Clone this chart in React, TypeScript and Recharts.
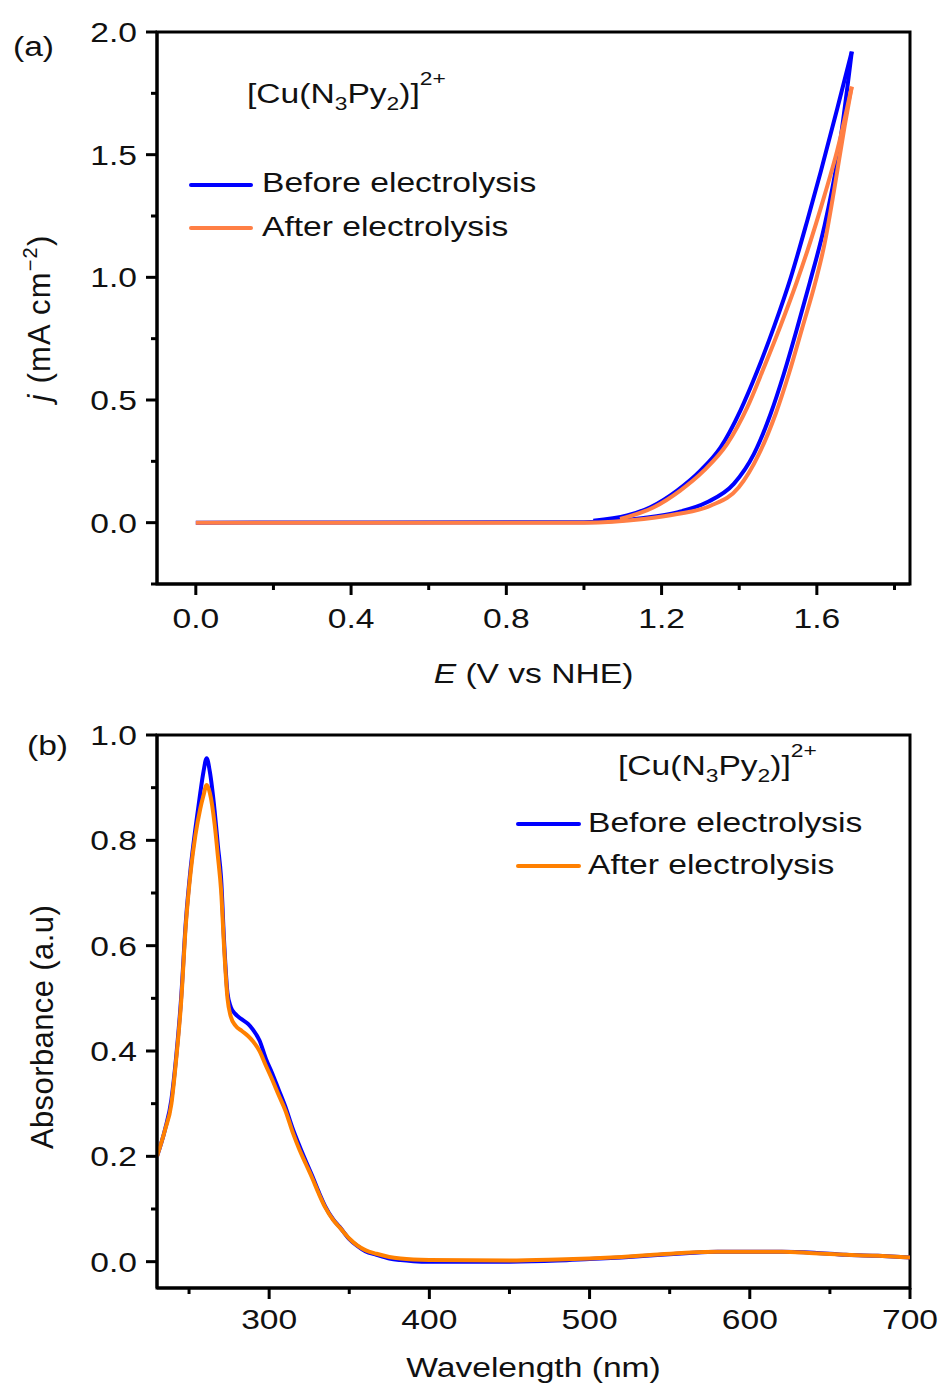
import React from 'react';
import { LineChart, Line, XAxis, YAxis, ReferenceArea, Legend } from 'recharts';

const FONT = '"Liberation Sans", Arial, Helvetica, sans-serif';
const INK = '#111111';
const SX = 1.2;

// ---------- Panel (a): cyclic voltammograms ----------
const cvBeforeFwdE = [0.0, 1.0, 1.154, 1.24, 1.317, 1.386, 1.438, 1.481, 1.515, 1.55, 1.582, 1.619, 1.653, 1.69];
const cvBeforeFwdJ = [0.0, 0.002, 0.019, 0.042, 0.083, 0.158, 0.28, 0.444, 0.607, 0.797, 0.98, 1.205, 1.478, 1.92];
const cvBeforeRevE = [1.024, 1.111, 1.171, 1.24, 1.3, 1.352, 1.403, 1.447, 1.49, 1.533, 1.576, 1.61, 1.653, 1.69];
const cvBeforeRevJ = [0.008, 0.029, 0.063, 0.131, 0.212, 0.307, 0.457, 0.62, 0.8, 1.0, 1.235, 1.43, 1.69, 1.92];
const cvAfterFwdE = [0.0, 1.0, 1.154, 1.24, 1.326, 1.399, 1.451, 1.494, 1.528, 1.563, 1.597, 1.619, 1.645, 1.672, 1.69];
const cvAfterFwdJ = [0.0, 0.0, 0.015, 0.035, 0.069, 0.144, 0.28, 0.444, 0.607, 0.797, 0.985, 1.13, 1.36, 1.62, 1.777];
const cvAfterRevE = [1.093, 1.18, 1.248, 1.309, 1.369, 1.421, 1.464, 1.507, 1.548, 1.576, 1.619, 1.653, 1.69];
const cvAfterRevJ = [0.015, 0.063, 0.131, 0.212, 0.321, 0.471, 0.634, 0.805, 0.98, 1.11, 1.33, 1.52, 1.777];

const cvXTicks = [0, 0.2, 0.4, 0.6, 0.8, 1.0, 1.2, 1.4, 1.6, 1.8];
const cvXMajor = [0, 0.4, 0.8, 1.2, 1.6];
const cvYTicks = [-0.25, 0, 0.25, 0.5, 0.75, 1.0, 1.25, 1.5, 1.75, 2.0];
const cvYMajor = [0, 0.5, 1.0, 1.5, 2.0];
const cvXDomain = [-0.1, 1.84];
const cvYDomain = [-0.25, 2.0];

// ---------- Panel (b): UV-vis spectra ----------
const wavelength = [230, 235, 239, 242, 245, 248, 251, 254, 257, 259, 261, 263, 266, 268, 270, 272, 274, 276, 279, 283, 287, 290, 294, 298, 302, 306, 310, 315, 319, 323, 327, 331, 335, 340, 344, 350, 355, 360, 367, 375, 382, 390, 400, 450, 480, 500, 520, 540, 560, 580, 600, 620, 640, 660, 680, 700];
const absBefore = [0.2, 0.251, 0.308, 0.39, 0.498, 0.646, 0.747, 0.823, 0.89, 0.93, 0.956, 0.93, 0.855, 0.79, 0.728, 0.601, 0.51, 0.484, 0.47, 0.46, 0.451, 0.44, 0.42, 0.385, 0.357, 0.326, 0.295, 0.25, 0.219, 0.19, 0.162, 0.132, 0.105, 0.08, 0.066, 0.043, 0.03, 0.02, 0.013, 0.006, 0.003, 0.001, 0.0, 0.0, 0.002, 0.005, 0.008, 0.012, 0.016, 0.019, 0.019, 0.019, 0.017, 0.013, 0.011, 0.008];
const absAfter = [0.2, 0.25, 0.3, 0.385, 0.49, 0.64, 0.74, 0.81, 0.86, 0.885, 0.905, 0.89, 0.83, 0.77, 0.705, 0.59, 0.5, 0.466, 0.448, 0.438, 0.428, 0.418, 0.4, 0.372, 0.345, 0.316, 0.288, 0.243, 0.212, 0.185, 0.158, 0.129, 0.103, 0.079, 0.065, 0.044, 0.031, 0.022, 0.015, 0.009, 0.006, 0.004, 0.003, 0.002, 0.004, 0.006, 0.009, 0.013, 0.017, 0.019, 0.019, 0.019, 0.016, 0.013, 0.011, 0.008];

const uvXTicks = [250, 300, 350, 400, 450, 500, 550, 600, 650, 700];
const uvXMajor = [300, 400, 500, 600, 700];
const uvYTicks = [0, 0.1, 0.2, 0.3, 0.4, 0.5, 0.6, 0.7, 0.8, 0.9, 1.0];
const uvYMajor = [0, 0.2, 0.4, 0.6, 0.8, 1.0];
const uvXDomain = [230, 700];
const uvYDomain = [-0.05, 1.0];

const seriesLabels = ['Before electrolysis', 'After electrolysis'];

const zipPts = (xs: number[], ys: number[], xk: string, yk: string) =>
  xs.map((x, i) => ({ [xk]: x, [yk]: ys[i] }));

const cvBeforeFwd = zipPts(cvBeforeFwdE, cvBeforeFwdJ, 'E', 'j');
const cvBeforeRev = zipPts(cvBeforeRevE, cvBeforeRevJ, 'E', 'j');
const cvAfterFwd = zipPts(cvAfterFwdE, cvAfterFwdJ, 'E', 'j');
const cvAfterRev = zipPts(cvAfterRevE, cvAfterRevJ, 'E', 'j');
const uvData = wavelength.map((w, i) => ({ wl: w, before: absBefore[i], after: absAfter[i] }));

const isMajor = (v: number, majors: number[]) => majors.some((m) => Math.abs(m - v) < 1e-6);

const makeBottomTick = (majors: number[], fmt: (v: number) => string, labelDy: number) => (p: any) => {
  const { x, y, payload } = p;
  const major = isMajor(payload.value, majors);
  return (
    <g>
      <line x1={x} x2={x} y1={y} y2={y + (major ? 11 : 6)} stroke="#000" strokeWidth={3} />
      {major && (
        <text
          transform={`translate(${x} ${y + labelDy}) scale(${SX} 1)`}
          textAnchor="middle"
          fontSize={28}
          fontFamily={FONT}
          fill={INK}
        >
          {fmt(payload.value)}
        </text>
      )}
    </g>
  );
};

const makeLeftTick = (majors: number[], fmt: (v: number) => string) => (p: any) => {
  const { x, y, payload } = p;
  const major = isMajor(payload.value, majors);
  return (
    <g>
      <line x1={x - (major ? 11 : 6)} x2={x} y1={y} y2={y} stroke="#000" strokeWidth={3} />
      {major && (
        <text
          transform={`translate(${x - 20} ${y + 10}) scale(${SX} 1)`}
          textAnchor="end"
          fontSize={28}
          fontFamily={FONT}
          fill={INK}
        >
          {fmt(payload.value)}
        </text>
      )}
    </g>
  );
};

const SText = ({ x, y, anchor = 'start', children }: any) => (
  <text
    transform={`translate(${x} ${y}) scale(${SX} 1)`}
    textAnchor={anchor}
    fontSize={28}
    fontFamily={FONT}
    fill={INK}
  >
    {children}
  </text>
);

const ComplexName = ({ x, y }: { x: number; y: number }) => (
  <text transform={`translate(${x} ${y}) scale(${SX} 1)`} fontSize={28} fontFamily={FONT} fill={INK}>
    [Cu(N
    <tspan fontSize={19} dy={7}>3</tspan>
    <tspan dy={-7}>Py</tspan>
    <tspan fontSize={19} dy={7}>2</tspan>
    <tspan dy={-7}>)]</tspan>
    <tspan fontSize={19} dy={-18}>2+</tspan>
  </text>
);

const LegendRows = ({ x0, x1, tx, rows }: any) => (
  <g>
    {rows.map((r: any, i: number) => (
      <g key={i}>
        <line x1={x0} x2={x1} y1={r.ly} y2={r.ly} stroke={r.color} strokeWidth={4} strokeLinecap="round" />
        <SText x={tx} y={r.ty}>{r.label}</SText>
      </g>
    ))}
  </g>
);

const OverlayA = () => (
  <svg width={941} height={700} style={{ position: 'absolute', left: 0, top: 0, overflow: 'visible' }}>
    <SText x={13} y={56}>(a)</SText>
    <ComplexName x={247} y={103} />
    <LegendRows
      x0={191}
      x1={251}
      tx={262}
      rows={[
        { color: '#0000FF', label: seriesLabels[0], ly: 185, ty: 192 },
        { color: '#FF7F45', label: seriesLabels[1], ly: 228, ty: 236 },
      ]}
    />
    <SText x={533.5} y={683} anchor="middle">
      <tspan fontStyle="italic">E</tspan> (V vs NHE)
    </SText>
    <text
      transform="translate(50 318) rotate(-90)"
      textAnchor="middle"
      fontSize={31}
      fontFamily={FONT}
      fill={INK}
      letterSpacing={1.2}
    >
      <tspan fontStyle="italic">j</tspan> (mA cm
      <tspan fontSize={20} dy={-13}>−2</tspan>
      <tspan dy={13}>)</tspan>
    </text>
  </svg>
);

const OverlayB = () => (
  <svg width={941} height={692} style={{ position: 'absolute', left: 0, top: 0, overflow: 'visible' }}>
    <SText x={27} y={55}>(b)</SText>
    <ComplexName x={618} y={75} />
    <LegendRows
      x0={518}
      x1={579}
      tx={588}
      rows={[
        { color: '#0000FF', label: seriesLabels[0], ly: 124, ty: 132 },
        { color: '#FF8000', label: seriesLabels[1], ly: 166, ty: 174 },
      ]}
    />
    <SText x={533.5} y={677} anchor="middle">Wavelength (nm)</SText>
    <text
      transform="translate(53 327) rotate(-90)"
      textAnchor="middle"
      fontSize={31}
      fontFamily={FONT}
      fill={INK}
      letterSpacing={0.4}
    >
      Absorbance (a.u)
    </text>
  </svg>
);

const axisLine = { stroke: '#000', strokeWidth: 3 };

export default function App() {
  return (
    <div style={{ position: 'absolute', left: 0, top: 0, width: 941, height: 1392, background: '#fff' }}>
      <div style={{ position: 'absolute', left: 0, top: 0 }}>
        <LineChart width={941} height={700} margin={{ top: 32, right: 31, left: 0, bottom: 56 }}>
          <XAxis
            type="number"
            dataKey="E"
            domain={cvXDomain}
            ticks={cvXTicks}
            interval={0}
            allowDataOverflow
            height={60}
            tickSize={0}
            tickMargin={0}
            tickLine={false}
            axisLine={axisLine}
            tick={makeBottomTick(cvXMajor, (v) => v.toFixed(1), 44)}
          />
          <YAxis
            type="number"
            domain={cvYDomain}
            ticks={cvYTicks}
            interval={0}
            allowDataOverflow
            width={157}
            tickSize={0}
            tickMargin={0}
            tickLine={false}
            axisLine={axisLine}
            tick={makeLeftTick(cvYMajor, (v) => v.toFixed(1))}
          />
          <ReferenceArea
            x1={cvXDomain[0]}
            x2={cvXDomain[1]}
            y1={cvYDomain[0]}
            y2={cvYDomain[1]}
            fill="none"
            fillOpacity={0}
            stroke="#000"
            strokeWidth={3}
          />
          <Line data={cvBeforeFwd} dataKey="j" type="monotoneX" stroke="#0000FF" strokeWidth={4} dot={false} activeDot={false} isAnimationActive={false} />
          <Line data={cvBeforeRev} dataKey="j" type="monotoneX" stroke="#0000FF" strokeWidth={4} dot={false} activeDot={false} isAnimationActive={false} />
          <Line data={cvAfterFwd} dataKey="j" type="monotoneX" stroke="#FF7F45" strokeWidth={4} dot={false} activeDot={false} isAnimationActive={false} />
          <Line data={cvAfterRev} dataKey="j" type="monotoneX" stroke="#FF7F45" strokeWidth={4} dot={false} activeDot={false} isAnimationActive={false} />
          <Legend
            layout="horizontal"
            verticalAlign="middle"
            align="center"
            wrapperStyle={{ left: 0, top: 0, width: 941, height: 700, margin: 0, padding: 0, pointerEvents: 'none' }}
            content={() => <OverlayA />}
          />
        </LineChart>
      </div>
      <div style={{ position: 'absolute', left: 0, top: 700 }}>
        <LineChart width={941} height={692} data={uvData} margin={{ top: 35, right: 31, left: 0, bottom: 44 }}>
          <XAxis
            type="number"
            dataKey="wl"
            domain={uvXDomain}
            ticks={uvXTicks}
            interval={0}
            allowDataOverflow
            height={60}
            tickSize={0}
            tickMargin={0}
            tickLine={false}
            axisLine={axisLine}
            tick={makeBottomTick(uvXMajor, (v) => String(v), 41)}
          />
          <YAxis
            type="number"
            domain={uvYDomain}
            ticks={uvYTicks}
            interval={0}
            allowDataOverflow
            width={157}
            tickSize={0}
            tickMargin={0}
            tickLine={false}
            axisLine={axisLine}
            tick={makeLeftTick(uvYMajor, (v) => v.toFixed(1))}
          />
          <ReferenceArea
            x1={uvXDomain[0]}
            x2={uvXDomain[1]}
            y1={uvYDomain[0]}
            y2={uvYDomain[1]}
            fill="none"
            fillOpacity={0}
            stroke="#000"
            strokeWidth={3}
          />
          <Line dataKey="before" type="monotoneX" stroke="#0000FF" strokeWidth={4} dot={false} activeDot={false} isAnimationActive={false} />
          <Line dataKey="after" type="monotoneX" stroke="#FF8000" strokeWidth={4} dot={false} activeDot={false} isAnimationActive={false} />
          <Legend
            layout="horizontal"
            verticalAlign="middle"
            align="center"
            wrapperStyle={{ left: 0, top: 0, width: 941, height: 692, margin: 0, padding: 0, pointerEvents: 'none' }}
            content={() => <OverlayB />}
          />
        </LineChart>
      </div>
    </div>
  );
}
